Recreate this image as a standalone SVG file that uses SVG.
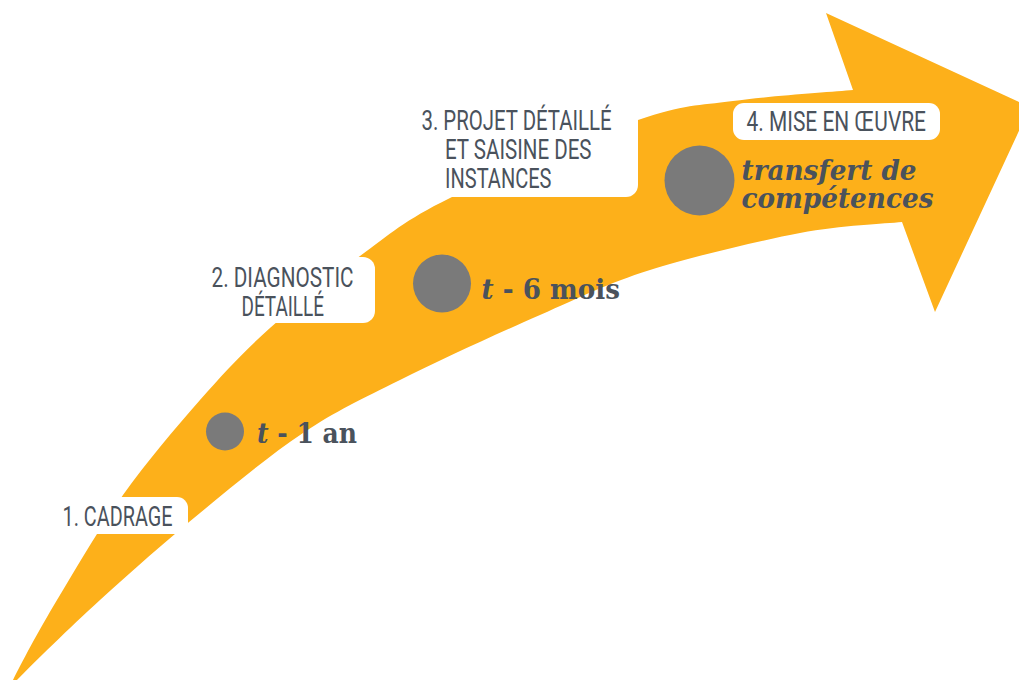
<svg xmlns="http://www.w3.org/2000/svg" width="1019" height="680" viewBox="0 0 1019 680">
<style>
.box{fill:#ffffff}
.lbl{font-family:Roboto,"Liberation Sans",sans-serif;font-size:27px;fill:#4a525c;font-weight:400}
.ms{font-family:"DejaVu Serif","Liberation Serif",serif;font-weight:bold;fill:#4a525c}
.dot{fill:#7a7a7a}
</style>
<rect x="0" y="0" width="1019" height="680" fill="#ffffff"/>
<g id="arrow">
<path fill="#FDB01A" d="M13,680 C20.3,665 38.7,630.5 57,600 C75.3,569.5 99.2,528.3 123,495 C146.8,461.7 175.5,427.8 200,400 C224.5,372.2 243.3,352 270,328 C296.7,304 330,277.7 360,256 C390,234.3 403.7,220.7 450,198 C496.3,175.3 590.8,136.2 638,120 C685.2,103.8 697.2,106 733,101 C768.8,96 833,91.8 853,90 L826,13 L1030,107 L935,312 L902,222 C885,223.8 842,225 800,233 C758,241 693.3,256.3 650,270 C606.7,283.7 581.7,296.7 540,315 C498.3,333.3 439.5,360.3 400,380 C360.5,399.7 336.3,410.8 303,433 C269.7,455.2 233.8,485.2 200,513 C166.2,540.8 130.3,572.5 100,600 C69.7,627.5 31.7,665 16,681 Z"/>
</g>
<g id="connectors"></g>
<g id="step1">
<rect class="box" x="30" y="497" width="158" height="37" rx="11"/>
<text class="lbl" x="62.5" y="526" textLength="110" lengthAdjust="spacingAndGlyphs">1. CADRAGE</text>
</g>
<g id="step2">
<rect class="box" x="185" y="257" width="190" height="66" rx="12"/>
<text class="lbl" x="211.5" y="287" textLength="142" lengthAdjust="spacingAndGlyphs">2. DIAGNOSTIC</text>
<text class="lbl" x="241.5" y="316" textLength="82.5" lengthAdjust="spacingAndGlyphs">DÉTAILLÉ</text>
</g>
<g id="step3">
<rect class="box" x="400" y="88" width="238" height="109" rx="12"/>
<text class="lbl" x="421.5" y="130" textLength="190" lengthAdjust="spacingAndGlyphs">3. PROJET DÉTAILLÉ</text>
<text class="lbl" x="445" y="159" textLength="146.5" lengthAdjust="spacingAndGlyphs">ET SAISINE DES</text>
<text class="lbl" x="445" y="188" textLength="106.5" lengthAdjust="spacingAndGlyphs">INSTANCES</text>
</g>
<g id="step4">
<rect class="box" x="733" y="103" width="207" height="37" rx="11"/>
<text class="lbl" x="746.5" y="131" textLength="179.5" lengthAdjust="spacingAndGlyphs">4. MISE EN ŒUVRE</text>
</g>
<g id="milestone1">
<circle class="dot" cx="225" cy="431.5" r="19"/>
<text class="ms" x="257" y="443" font-size="28" textLength="100" lengthAdjust="spacingAndGlyphs"><tspan font-style="italic">t</tspan> - 1 an</text>
</g>
<g id="milestone2">
<circle class="dot" cx="442" cy="283.5" r="29"/>
<text class="ms" x="481.5" y="298.5" font-size="28" textLength="138.5" lengthAdjust="spacingAndGlyphs"><tspan font-style="italic">t</tspan> - 6 mois</text>
</g>
<g id="milestone3">
<circle class="dot" cx="699.5" cy="180.5" r="35"/>
<text class="ms" x="741.5" y="180" font-size="27" font-style="italic" textLength="175" lengthAdjust="spacingAndGlyphs">transfert de</text>
<text class="ms" x="741.5" y="208" font-size="27" font-style="italic" textLength="192" lengthAdjust="spacingAndGlyphs">compétences</text>
</g>
</svg>
